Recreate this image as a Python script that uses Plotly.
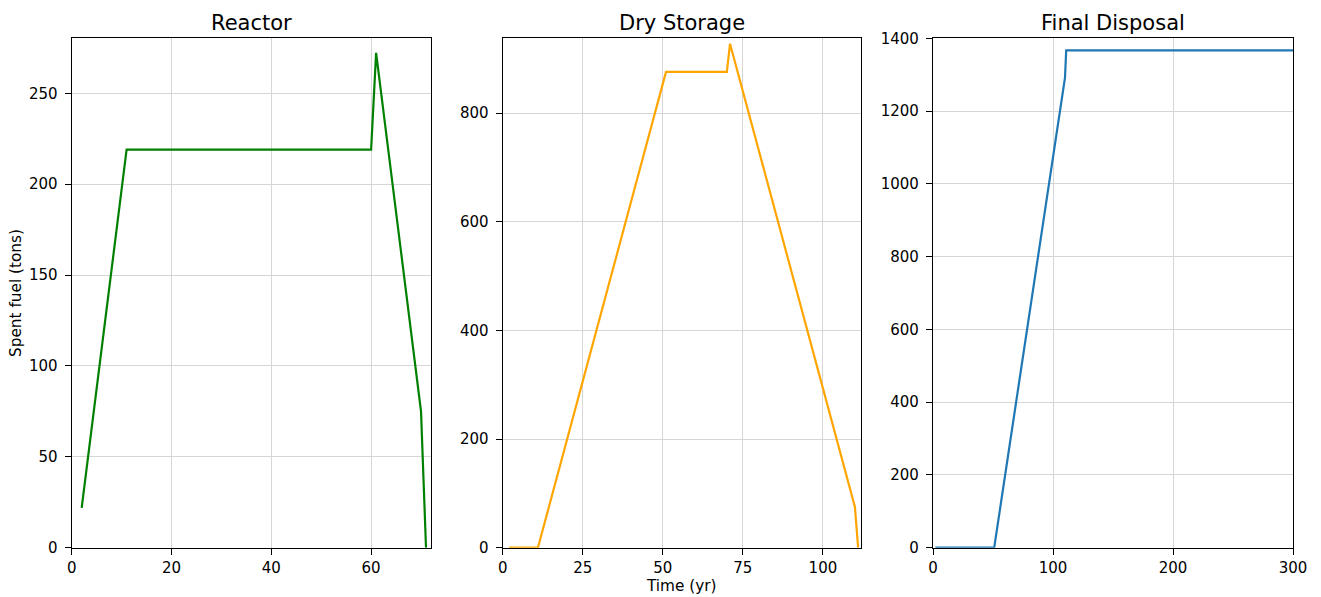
import plotly.graph_objects as go

# Reactor
reactor_years = [2, 11, 60, 61, 70, 71]
reactor_fuel = [21.9, 219, 219, 272.3, 75, 0]
# Dry storage
dry_years = [2, 11, 51, 70, 71, 110, 111]
dry_fuel = [0, 0, 876, 876, 928, 75, 0]
# Final disposal
final_years = [2, 51, 110, 111, 300]
final_fuel = [0, 0, 1292, 1367, 1367]

titles = ["Reactor", "Dry Storage", "Final Disposal"]
colors = ["green", "orange", "#1f77b4"]

W, H = 1321, 597
left_px = [71.7, 502.7, 933.0]
right_px = [431.0, 861.0, 1293.0]
top_px, bot_px = 38.3, 547.7
ydom = [(H - bot_px) / H, (H - top_px) / H]

xranges = [[0, 72], [0, 111.9], [0, 300]]
yranges = [[0, 280.3], [0, 938], [0, 1400]]
xdticks = [20, 25, 100]
ydticks = [50, 200, 200]

font = "DejaVu Sans, Liberation Sans, sans-serif"

fig = go.Figure()
series = [(reactor_years, reactor_fuel), (dry_years, dry_fuel), (final_years, final_fuel)]
for i, (xs, ys) in enumerate(series):
    sfx = "" if i == 0 else str(i + 1)
    fig.add_trace(go.Scatter(x=xs, y=ys, mode="lines",
                             line=dict(color=colors[i], width=2.2),
                             xaxis="x" + sfx, yaxis="y" + sfx, showlegend=False))

axis_common = dict(showline=True, linecolor="black", linewidth=1.3, mirror=True,
                   ticks="outside", ticklen=6, tickwidth=1.2, tickcolor="black",
                   showgrid=True, gridcolor="#d6d6d6", gridwidth=1,
                   zeroline=False, automargin=False,
                   tickfont=dict(family=font, size=15, color="black"))

layout = dict(width=W, height=H, margin=dict(l=0, r=0, t=0, b=0, autoexpand=False),
              plot_bgcolor="white", paper_bgcolor="white",
              font=dict(family=font, color="black"))
annotations = []
for i in range(3):
    sfx = "" if i == 0 else str(i + 1)
    xd = [left_px[i] / W, right_px[i] / W]
    layout["xaxis" + sfx] = dict(axis_common, domain=xd, range=xranges[i], dtick=xdticks[i],
                                 tick0=0, anchor="y" + sfx)
    layout["yaxis" + sfx] = dict(axis_common, domain=ydom, range=yranges[i], dtick=ydticks[i],
                                 tick0=0, anchor="x" + sfx, ticklabelstandoff=4)
    annotations.append(dict(text=titles[i], xref="paper", yref="paper",
                            x=(xd[0] + xd[1]) / 2, y=ydom[1], yshift=1,
                            xanchor="center", yanchor="bottom", showarrow=False,
                            font=dict(family=font, size=21, color="black")))

# axis titles
annotations.append(dict(text="Spent fuel (tons)", xref="paper", yref="paper",
                        x=16 / W, y=(ydom[0] + ydom[1]) / 2, textangle=-90,
                        xanchor="center", yanchor="middle", showarrow=False,
                        font=dict(family=font, size=15.3, color="black")))
annotations.append(dict(text="Time (yr)", xref="paper", yref="paper",
                        x=681.7 / W, y=(H - 586) / H,
                        xanchor="center", yanchor="middle", showarrow=False,
                        font=dict(family=font, size=15.3, color="black")))
layout["annotations"] = annotations
fig.update_layout(**layout)

fig.write_html("out.html")
